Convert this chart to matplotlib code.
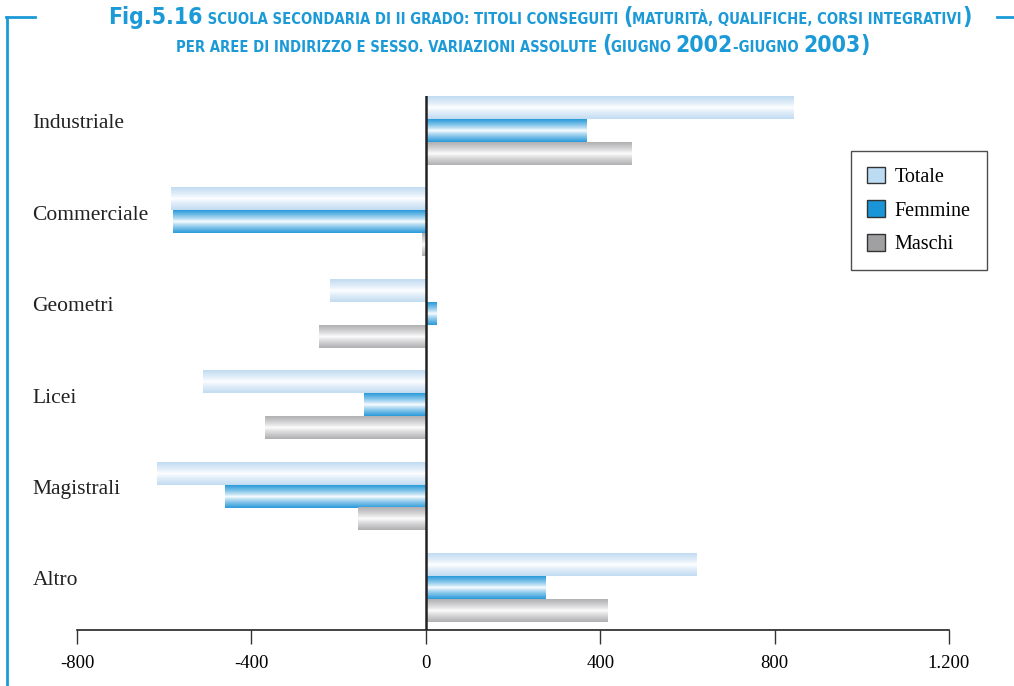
import numpy as np
import matplotlib
matplotlib.use("Agg")
import matplotlib.pyplot as plt
from matplotlib.colors import LinearSegmentedColormap
from matplotlib.patches import Patch
from matplotlib.lines import Line2D
import matplotlib.transforms as mtransforms

# data
categories = ["Industriale", "Commerciale", "Geometri", "Licei", "Magistrali", "Altro"]
totale = [843, -584, -220, -511, -617, 621]
femmine = [369, -580, 23, -142, -461, 275]
maschi = [472, -8, -245, -369, -156, 417]
series_names = ["Totale", "Femmine", "Maschi"]
xticks = [-800, -400, 0, 400, 800, 1200]
xtick_labels = ["-800", "-400", "0", "400", "800", "1.200"]

blue = "#1b9ad7"
edge_cols = ["#c3dcf2", "#2b9bdb", "#b0b0b3"]
legend_cols = ["#bcdcf4", "#1a96d8", "#a0a0a2"]

fig = plt.figure(figsize=(10.14, 6.86), dpi=100)
ax = fig.add_axes([77 / 1014, 56 / 686, 872 / 1014, 534 / 686])

h = 0.25
y = np.arange(len(categories))
t = np.linspace(0, 1, 80)
grad = np.clip(np.abs(t - 0.5) * 2.0, 0, 1) ** 0.8

for k, vals in enumerate([totale, femmine, maschi]):
    cmap = LinearSegmentedColormap.from_list("g%d" % k, ["#ffffff", edge_cols[k]])
    bars = ax.barh(y + (k - 1) * h, vals, height=h, color="none", edgecolor="none")
    for b in bars:
        bb = b.get_bbox()
        ax.imshow(grad.reshape(-1, 1), cmap=cmap, vmin=0, vmax=1,
                  extent=[bb.x0, bb.x1, bb.y1, bb.y0], aspect="auto",
                  interpolation="bilinear", zorder=2)

ax.set_xlim(-800, 1200)
ax.set_ylim(5.465, -0.377)
ax.axvline(0, color="#222222", lw=1.8, zorder=3)

for s in ["top", "right", "left"]:
    ax.spines[s].set_visible(False)
ax.spines["bottom"].set_linewidth(1.2)
ax.spines["bottom"].set_color("#222222")

ax.set_xticks(xticks)
ax.set_xticklabels(xtick_labels, fontfamily="Liberation Serif", fontsize=13.5)
ax.tick_params(axis="x", direction="out", length=10, width=1, color="#333333", pad=8)

ax.set_yticks(y)
ax.set_yticklabels(categories, fontfamily="Liberation Serif", fontsize=15.5, ha="left")
ax.tick_params(axis="y", length=0, pad=32)
off = mtransforms.ScaledTranslation(0, 0.09, fig.dpi_scale_trans)
for lab in ax.get_yticklabels():
    lab.set_transform(lab.get_transform() + off)
    lab.set_color("#222222")

handles = [Patch(facecolor=c, edgecolor="#333333", linewidth=1) for c in legend_cols]
leg = ax.legend(handles, series_names, loc="upper left",
                bbox_to_anchor=((851 - 77) / 872, 1 - (151 - 96) / 534),
                prop={"family": "Liberation Serif", "size": 14.5},
                frameon=True, fancybox=False, edgecolor="#222222",
                handlelength=0.9, handleheight=0.9, handletextpad=0.5,
                labelspacing=0.66, borderpad=0.78, borderaxespad=0)
leg.get_frame().set_linewidth(1)

# frame lines
fig.add_artist(Line2D([7 / 1014, 7 / 1014], [0, 1 - 17 / 686], color=blue, lw=2))
fig.add_artist(Line2D([6 / 1014, 35 / 1014], [1 - 17 / 686, 1 - 17 / 686], color=blue, lw=2))
fig.add_artist(Line2D([997 / 1014, 1014 / 1014], [1 - 17 / 686, 1 - 17 / 686], color=blue, lw=2))

# title with mixed sizes
def draw_line(segments, cx, base_y):
    renderer = fig.canvas.get_renderer()
    texts = []
    for s, size in segments:
        tx = fig.text(0, 1 - base_y / 686, s, fontsize=size, color=blue,
                      fontweight="bold", fontfamily="DejaVu Sans", fontstretch="condensed",
                      va="baseline", ha="left")
        texts.append(tx)
    widths = [tx.get_window_extent(renderer).width for tx in texts]
    x = cx - sum(widths) / 2
    for tx, w in zip(texts, widths):
        tx.set_x(x / 1014)
        x += w

big, small = 16.5, 10.6
draw_line([("Fig.5.16", big), (" SCUOLA SECONDARIA DI II GRADO: TITOLI CONSEGUITI ", small),
           ("(", big), ("MATURITÀ, QUALIFICHE, CORSI INTEGRATIVI", small), (")", big)],
          540, 24)
draw_line([("PER AREE DI INDIRIZZO E SESSO. VARIAZIONI ASSOLUTE ", small), ("(", big),
           ("GIUGNO ", small), ("2002", big), ("-GIUGNO ", small), ("2003", big), (")", big)],
          523, 52)

fig.savefig("out.png", dpi=100)
